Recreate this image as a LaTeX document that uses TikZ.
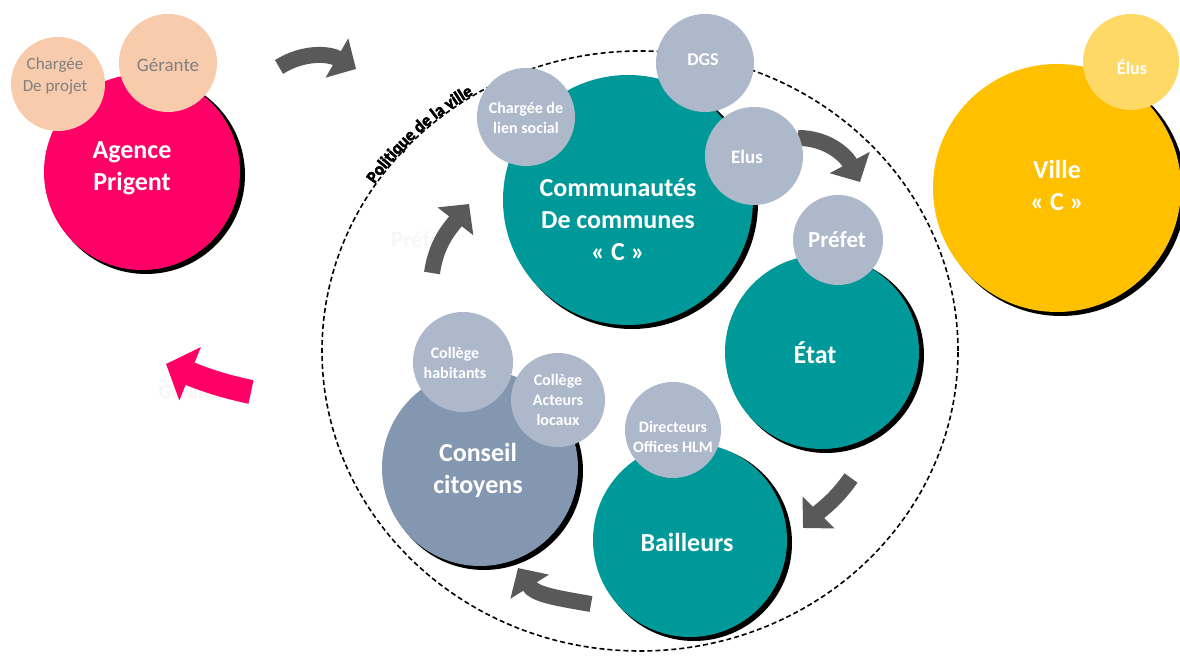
\documentclass[tikz,border=0pt]{standalone}
\usepackage{fontspec}
\setmainfont{Carlito}
\newfontfamily\blobfont[FakeBold=3]{Carlito}
\usetikzlibrary{arrows.meta,decorations.text}
\definecolor{pinkc}{HTML}{FF0066}
\definecolor{peach}{HTML}{F8CBAD}
\definecolor{peachtxt}{HTML}{808080}
\definecolor{tealc}{HTML}{009999}
\definecolor{smallc}{HTML}{ADB9CA}
\definecolor{conseilc}{HTML}{8497B0}
\definecolor{yellowc}{HTML}{FFC000}
\definecolor{lyellow}{HTML}{FFD966}
\definecolor{arrowgray}{HTML}{595959}
\definecolor{ghost}{HTML}{F7F7F7}
\begin{document}
\begin{tikzpicture}[x=1pt,y=1pt,
  circ/.style={circle,inner sep=0pt,draw=none},
  bigtxt/.style={text=white,font=\bfseries\fontsize{26}{32}\selectfont,align=center,inner sep=0pt},
  smalltxt/.style={text=white,font=\bfseries\fontsize{16}{20}\selectfont,align=center,inner sep=0pt},
  onetxt/.style={text=white,font=\bfseries\fontsize{19}{22}\selectfont,align=center,inner sep=0pt},
  peachtext/.style={text=peachtxt,font=\fontsize{17}{22}\selectfont,align=center,inner sep=0pt},
  garrow/.style={draw=arrowgray,line width=16pt,-{Triangle[length=22pt,width=44pt]}},
  parrow/.style={draw=pinkc,line width=24pt,-{Triangle[length=26pt,width=56pt]}},
  shadowc/.style={fill=black}]
\useasboundingbox (0,0) rectangle (1180,666);
\fill[white] (0,0) rectangle (1180,666);

% ghost texts
\node[text=ghost,font=\bfseries\fontsize{23}{26}\selectfont] (ghostprefet) at (420,426) {Préfet};
\node[text=ghost,font=\bfseries\fontsize{20}{24}\selectfont] (ghostgerante) at (192,274) {Gérante};

% dashed ellipse
\draw[black,line width=1.6pt,dash pattern=on 5pt off 3pt] (640,315) ellipse[x radius=318,y radius=300];

% Politique de la ville
\path[decorate,decoration={text along path,
  text={|\blobfont\bfseries\fontsize{17}{17}\selectfont|Politique de la ville},
  text align=center,raise=1pt}]
  (640,315) ++(153:318 and 300) arc[start angle=153,end angle=115,x radius=318,y radius=300];

% arrow end points
\coordinate (a1s) at (279,599); \coordinate (a1e) at (356,597);
\coordinate (a2s) at (798,528); \coordinate (a2e) at (860,484);
\coordinate (a3s) at (851,188); \coordinate (a3e) at (803,138);
\coordinate (a4s) at (591,62);  \coordinate (a4e) at (518,98);
\coordinate (a5s) at (432,393); \coordinate (a5e) at (469,462);
\coordinate (a6s) at (251,274); \coordinate (a6e) at (166,302);

\draw[garrow] (a1s) to[out=32,in=150] (a1e);
\draw[garrow] (a2s) to[out=0,in=118] (a2e);
\draw[garrow] (a3s) to[out=-125,in=45] (a3e);
\draw[garrow] (a4s) to[out=170,in=-58] (a4e);
\draw[garrow] (a5s) to[out=82,in=-128] (a5e);
\draw[parrow] (a6s) to[out=168,in=-22] (a6e);

% shadows
\fill[shadowc] (632,463) circle[radius=126];
\fill[shadowc] (826,311) circle[radius=98];
\fill[shadowc] (694,123) circle[radius=98];
\fill[shadowc] (484,195) circle[radius=99];
\fill[shadowc] (146,491) circle[radius=99];
\fill[shadowc] (1061,475) circle[radius=125];

% big circles
\node[circ,fill=tealc,minimum size=250pt] (cc) at (628,466) {};
\node[circ,fill=tealc,minimum size=194pt] (etat) at (822,314) {};
\node[circ,fill=tealc,minimum size=194pt] (bail) at (690,126) {};
\node[circ,fill=conseilc,minimum size=196pt] (cons) at (480,198) {};
\node[circ,fill=pinkc,minimum size=196pt] (agence) at (142,494) {};
\node[circ,fill=yellowc,minimum size=248pt] (ville) at (1057,478) {};

% small circles
\node[circ,fill=peach,minimum size=94pt] (cp) at (58,582) {};
\node[circ,fill=peach,minimum size=98pt] (ger) at (168,603) {};
\node[circ,fill=smallc,minimum size=98pt] (dgs) at (705,603) {};
\node[circ,fill=smallc,minimum size=98pt] (cls) at (526,549) {};
\node[circ,fill=smallc,minimum size=98pt] (elus) at (754,510) {};
\node[circ,fill=smallc,minimum size=90pt] (pref) at (838,426) {};
\node[circ,fill=smallc,minimum size=96pt] (dir) at (673,236) {};
\node[circ,fill=smallc,minimum size=100pt] (ch) at (463,304) {};
\node[circ,fill=smallc,minimum size=94pt] (ca) at (558,266) {};
\node[circ,fill=lyellow,minimum size=96pt] (elusv) at (1131,604) {};

% texts
\node[bigtxt] (tagence) at (132,498) {Agence\\Prigent};
\node[peachtext] (tcp) at (55,590) {Chargée\\De projet};
\node[peachtext,font=\fontsize{19}{22}\selectfont] (tger) at (168,601) {Gérante};
\node[bigtxt] (tcc) at (618,446) {Communautés\\De communes\\« C »};
\node[onetxt,font=\bfseries\fontsize{18}{22}\selectfont] (tdgs) at (703,606) {DGS};
\node[smalltxt] (tcls) at (526,548) {Chargée de\\lien social};
\node[onetxt] (telus) at (747,509) {Elus};
\node[bigtxt,font=\bfseries\fontsize{23}{26}\selectfont] (tpref) at (837,426) {Préfet};
\node[bigtxt] (tetat) at (815,313) {État};
\node[smalltxt] (tdir) at (673,229) {Directeurs\\Offices HLM};
\node[bigtxt] (tbail) at (687,124) {Bailleurs};
\node[bigtxt] (tcons) at (478,196) {Conseil\\citoyens};
\node[smalltxt] (tch) at (455,303) {Collège\\habitants};
\node[smalltxt] (tca) at (558,266) {Collège\\Acteurs\\locaux};
\node[bigtxt] (tville) at (1057,481) {Ville\\« C »};
\node[onetxt,font=\bfseries\fontsize{18}{22}\selectfont] (telusv) at (1132,599) {Élus};
\end{tikzpicture}
\end{document}
